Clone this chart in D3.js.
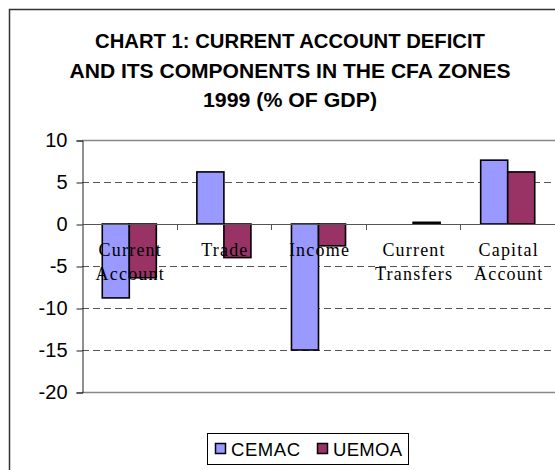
<!DOCTYPE html>
<html>
<head>
<meta charset="utf-8">
<script src="https://cdn.jsdelivr.net/npm/d3@7"></script>
<style>
  body { margin: 0; background: #fff; }
</style>
</head>
<body>
<script>
// Data
const categories = ["Current Account", "Trade", "Income", "Current Transfers", "Capital Account"];
const seriesNames = ["CEMAC", "UEMOA"];
const cemac = [-8.8, 6.2, -15.0, null, 7.6];
const uemoa = [-6.4, -4.0, -2.6, 0.2, 6.2];
const yTicks = [10, 5, 0, -5, -10, -15, -20];
const titleLines = [
    "CHART 1: CURRENT ACCOUNT DEFICIT",
    "AND ITS COMPONENTS IN THE CFA ZONES",
    "1999 (% OF GDP)"
];

const colors = ["#9999ff", "#993366"];

// Canvas setup
const width = 555;
const height = 470;

const svg = d3.select("body")
    .append("svg")
    .attr("width", width)
    .attr("height", height);

// outer chart border (right/bottom sides fall outside the picture)
svg.append("rect")
    .attr("x", 9.5).attr("y", 9.5)
    .attr("width", 600).attr("height", 500)
    .attr("fill", "none")
    .attr("stroke", "#333")
    .attr("stroke-width", 1.5);

// title
const titleY = [48, 78, 107];
const titleLen = [390, 441, 174];
svg.append("g").selectAll("text")
    .data(titleLines)
    .enter().append("text")
    .attr("x", 290)
    .attr("y", (d, i) => titleY[i])
    .attr("text-anchor", "middle")
    .attr("font-family", "Liberation Sans, Arial, sans-serif")
    .attr("font-weight", "bold")
    .attr("font-size", 21)
    .attr("textLength", (d, i) => titleLen[i])
    .attr("lengthAdjust", "spacingAndGlyphs")
    .attr("fill", "#000")
    .text(d => d);

// plot area
const plot = { left: 82, right: 555, top: 140, bottom: 392 };

const x = d3.scaleBand()
    .domain(categories)
    .range([plot.left, plot.right])
    .paddingInner(0)
    .paddingOuter(0);

const xSeries = d3.scaleBand()
    .domain(seriesNames)
    .range([0, x.bandwidth()])
    .paddingInner(0)
    .paddingOuter(0.75);

const y = d3.scaleLinear()
    .domain([-20, 10])
    .range([plot.bottom, plot.top]);

// gridlines (dashed)
svg.append("g").selectAll("line")
    .data(yTicks.filter(t => t !== 0 && t !== 10 && t !== -20))
    .enter().append("line")
    .attr("x1", plot.left).attr("x2", plot.right)
    .attr("y1", d => Math.round(y(d)) + 0.5)
    .attr("y2", d => Math.round(y(d)) + 0.5)
    .attr("stroke", "#555")
    .attr("stroke-dasharray", "7,4");

// plot area top/bottom border
svg.append("g").selectAll("line")
    .data([10, -20])
    .enter().append("line")
    .attr("x1", plot.left).attr("x2", plot.right)
    .attr("y1", d => y(d) + 0.5)
    .attr("y2", d => y(d) + 0.5)
    .attr("stroke", "#888")
    .attr("stroke-width", 1.5);

// y axis
const yAxis = svg.append("g")
    .attr("transform", `translate(${plot.left + 0.5},0.5)`)
    .call(d3.axisLeft(y).tickValues(yTicks).tickSize(6).tickPadding(9).tickFormat(d => String(d)));
yAxis.select(".domain").attr("stroke", "#222");
yAxis.selectAll(".tick line").attr("stroke", "#222");
yAxis.selectAll("text")
    .attr("font-family", "Liberation Sans, Arial, sans-serif")
    .attr("font-size", 20)
    .attr("fill", "#000");

// bars
const rows = categories.map((c, i) => ({ cat: c, values: [cemac[i], uemoa[i]] }));
const groups = svg.append("g").selectAll("g")
    .data(rows)
    .enter().append("g")
    .attr("transform", d => `translate(${x(d.cat)},0)`);

groups.selectAll("rect")
    .data(d => d.values.map((v, j) => ({ name: seriesNames[j], v: v, j: j })).filter(e => e.v !== null))
    .enter().append("rect")
    .attr("x", d => xSeries(d.name))
    .attr("width", xSeries.bandwidth())
    .attr("y", d => y(Math.max(0, d.v)))
    .attr("height", d => Math.abs(y(d.v) - y(0)))
    .attr("fill", d => colors[d.j])
    .attr("stroke", "#000")
    .attr("stroke-width", 1.6);

// zero axis with category ticks
svg.append("line")
    .attr("x1", plot.left).attr("x2", plot.right)
    .attr("y1", y(0) + 0.5).attr("y2", y(0) + 0.5)
    .attr("stroke", "#555");
svg.append("g").selectAll("line")
    .data(categories.slice(1))
    .enter().append("line")
    .attr("x1", d => Math.round(x(d)) + 0.5)
    .attr("x2", d => Math.round(x(d)) + 0.5)
    .attr("y1", y(0)).attr("y2", y(0) + 6)
    .attr("stroke", "#555");

// category labels (drawn over bars)
const labels = svg.append("g").selectAll("text")
    .data(categories)
    .enter().append("text")
    .attr("text-anchor", "middle")
    .attr("font-family", "Liberation Serif, Times New Roman, serif")
    .attr("font-size", 18)
    .attr("letter-spacing", 1.2)
    .attr("fill", "#000");
labels.selectAll("tspan")
    .data(d => d.split(" ").map(w => ({ w: w, cx: x(d) + x.bandwidth() / 2 })))
    .enter().append("tspan")
    .attr("x", d => d.cx + 1)
    .attr("y", (d, i) => 256 + i * 23.5)
    .text(d => d.w);

// legend
const legend = svg.append("g");
legend.append("rect")
    .attr("x", 207.5).attr("y", 433.5)
    .attr("width", 201).attr("height", 31)
    .attr("fill", "#fff")
    .attr("stroke", "#000");
const legendX = [215, 317];
const items = legend.selectAll("g.item")
    .data(seriesNames)
    .enter().append("g")
    .attr("transform", (d, i) => `translate(${legendX[i]},443)`);
items.append("rect")
    .attr("x", 0.5).attr("y", 0.5)
    .attr("width", 10).attr("height", 10)
    .attr("fill", (d, i) => colors[i])
    .attr("stroke", "#000")
    .attr("stroke-width", 1.5);
items.append("text")
    .attr("x", 16)
    .attr("y", 13)
    .attr("font-family", "Liberation Sans, Arial, sans-serif")
    .attr("font-size", 18.5)
    .attr("textLength", 69)
    .attr("lengthAdjust", "spacing")
    .attr("fill", "#000")
    .text(d => d);
</script>
</body>
</html>
